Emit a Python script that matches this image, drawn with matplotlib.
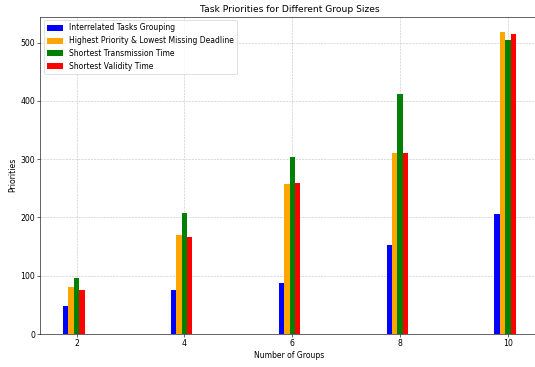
import matplotlib
matplotlib.use("Agg")
import matplotlib.pyplot as plt
import numpy as np

groups = [2, 4, 6, 8, 10]
interrelated = [48, 76, 88, 152, 206]
highest_priority = [81, 170, 258, 311, 519]
shortest_transmission = [96, 208, 304, 412, 505]
shortest_validity = [76, 166, 259, 311, 515]

x = np.array(groups)
width = 0.1

fig = plt.figure(figsize=(10, 6.86), dpi=53.5)
ax = fig.add_axes([0.0755, 0.0899, 0.9314, 0.865])

ax.bar(x - 0.2, interrelated, width, color='blue', label='Interrelated Tasks Grouping')
ax.bar(x - 0.1, highest_priority, width, color='orange', label='Highest Priority & Lowest Missing Deadline')
ax.bar(x, shortest_transmission, width, color='green', label='Shortest Transmission Time')
ax.bar(x + 0.1, shortest_validity, width, color='red', label='Shortest Validity Time')

ax.set_xticks(groups)
ax.tick_params(labelsize=10.5)
ax.set_xlabel('Number of Groups', fontsize=10.3)
ax.set_ylabel('Priorities', fontsize=10.5)
ax.set_title('Task Priorities for Different Group Sizes', fontsize=12.3)
ax.legend(loc='upper left', fontsize=10.3, labelspacing=0.5,
          handlelength=2.1, handleheight=0.8)

ax.set_axisbelow(True)
ax.grid(True, linestyle='--', color='#b0b0b0', alpha=0.7)
# vertical grid lines sit on top of the centre bars
for line in ax.get_xgridlines():
    line.set_zorder(2.5)

fig.savefig('out.png', dpi=53.5)
